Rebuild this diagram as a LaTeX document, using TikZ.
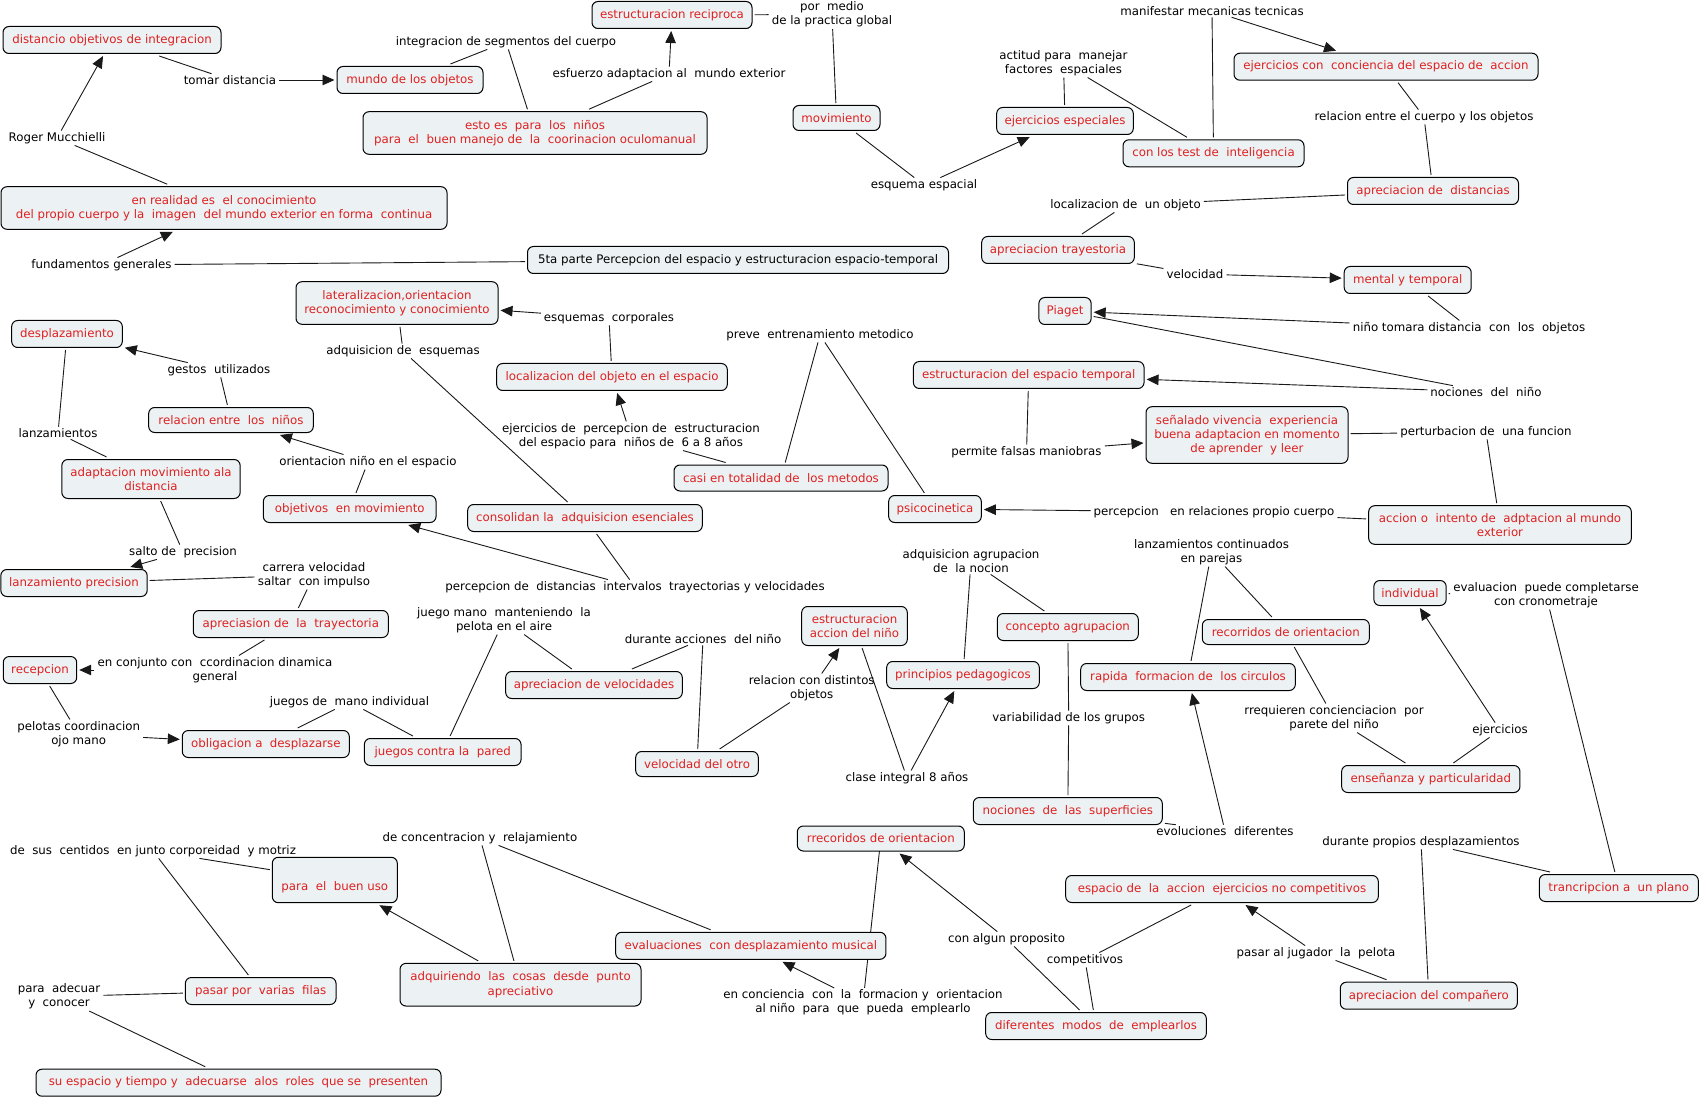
\documentclass[tikz,border=0pt]{standalone}
\usepackage{fontspec}
\setmainfont{DejaVu Sans}
\usetikzlibrary{arrows.meta}
\definecolor{boxfill}{RGB}{236,242,244}
\definecolor{cred}{RGB}{222,32,32}
\pgfdeclarelayer{backdrop}
\pgfdeclarelayer{bg}
\pgfsetlayers{backdrop,bg,main}
\begin{document}
\begin{tikzpicture}[x=1pt,y=-1pt,
  concept/.style={draw=black, line width=1pt, rounded corners=6pt, fill=boxfill, text=cred,
    font=\fontsize{11.8}{14.3}\selectfont, align=center, inner xsep=3pt, inner ysep=2pt,
    minimum height=27pt, outer sep=2.5pt},
  root/.style={concept, text=black},
  lp/.style={text=black, font=\fontsize{11.8}{14.3}\selectfont, align=center, inner xsep=3pt, inner ysep=1.5pt},
  conn/.style={line width=0.9pt, draw=black!90},
  arr/.style={conn, -{Triangle[length=12pt,width=10.5pt]}}
]
\begin{pgfonlayer}{backdrop}
\fill[white] (0,0) rectangle (1701,1099);
\end{pgfonlayer}
\useasboundingbox (0,0) rectangle (1701,1099);

% ---------- concepts ----------
\node[concept, minimum width=218pt] (c_distancio) at (112,40) {distancio objetivos de integracion};
\node[concept, minimum width=146pt] (c_mundo) at (410,80) {mundo de los objetos};
\node[concept, minimum width=344pt, minimum height=42.6pt] (c_esto) at (535,133) {esto es~ para~ los~ niños\\para~ el~ buen manejo de~ la~ coorinacion oculomanual};
\node[concept, minimum width=160pt] (c_estrec) at (672,15) {estructuracion reciproca};
\node[concept, minimum width=446pt, minimum height=42.6pt] (c_realidad) at (224,208) {en realidad es~ el conocimiento\\del propio cuerpo y la~ imagen~ del mundo exterior en forma~ continua};
\node[root, minimum width=421pt] (c_root) at (738,260) {5ta parte Percepcion del espacio y estructuracion espacio-temporal};
\node[concept, minimum width=202pt, minimum height=42.6pt] (c_lateral) at (397,303) {lateralizacion,orientacion\\reconocimiento y conocimiento};
\node[concept, minimum width=110.6pt] (c_despl) at (67,334) {desplazamiento};
\node[concept, minimum width=87pt, minimum height=25pt] (c_movim) at (836.5,118) {movimiento};
\node[concept, minimum width=136.6pt] (c_ejesp) at (1065,121) {ejercicios especiales};
\node[concept, minimum width=181pt] (c_test) at (1213.5,153.3) {con los test de~ inteligencia};
\node[concept, minimum width=304pt] (c_ejcon) at (1386,66.7) {ejercicios con~ conciencia del espacio de~ accion};
\node[concept, minimum width=171pt] (c_aprdist) at (1433,191) {apreciacion de~ distancias};
\node[concept, minimum width=152.6pt] (c_aprtray) at (1058,250) {apreciacion trayestoria};
\node[concept, minimum width=127pt] (c_mental) at (1407.7,280) {mental y temporal};
\node[concept, minimum width=52.3pt] (c_piaget) at (1065,311) {Piaget};
\node[concept, minimum width=230.7pt] (c_estemp) at (1028.7,375) {estructuracion del espacio temporal};
\node[concept, minimum width=202pt, minimum height=56.6pt] (c_senal) at (1247,435) {señalado vivencia~ experiencia\\buena adaptacion en momento\\de aprender~ y leer};
\node[concept, minimum width=262.6pt, minimum height=38.6pt] (c_accion) at (1500,525) {accion o~ intento de~ adptacion al mundo\\exterior};
\node[concept, minimum width=92.6pt] (c_psico) at (935,509) {psicocinetica};
\node[concept, minimum width=214pt, minimum height=26pt] (c_casi) at (781,478) {casi en totalidad de~ los metodos};
\node[concept, minimum width=230.6pt] (c_localobj) at (612,377) {localizacion del objeto en el espacio};
\node[concept, minimum width=164.6pt, minimum height=25pt] (c_relnin) at (231,420) {relacion entre~ los~ niños};
\node[concept, minimum width=178.3pt, minimum height=39pt] (c_adapt) at (151,479) {adaptacion movimiento ala\\distancia};
\node[concept, minimum width=172.7pt] (c_objmov) at (349.7,509) {objetivos~ en movimiento};
\node[concept, minimum width=234.6pt] (c_consol) at (585,518) {consolidan la~ adquisicion esenciales};
\node[concept, minimum width=146.3pt] (c_lanzprec) at (74,583) {lanzamiento precision};
\node[concept, minimum width=195pt] (c_aprtrayect) at (290.8,624) {apreciasion de~ la~ trayectoria};
\node[concept, minimum width=73.4pt] (c_recep) at (40,670) {recepcion};
\node[concept, minimum width=167pt] (c_oblig) at (265.8,744) {obligacion a~ desplazarse};
\node[concept, minimum width=156.7pt] (c_pared) at (442.7,752) {juegos contra la~ pared};
\node[concept, minimum width=176.6pt] (c_aprvel) at (594,685) {apreciacion de velocidades};
\node[concept, minimum width=105.6pt, minimum height=39pt] (c_estacc) at (854.5,626) {estructuracion\\accion del niño};
\node[concept, minimum width=122.6pt, minimum height=25pt] (c_velotro) at (697,764) {velocidad del otro};
\node[concept, minimum width=141pt] (c_concepto) at (1067.8,627) {concepto agrupacion};
\node[concept, minimum width=152.6pt] (c_princ) at (963,675) {principios pedagogicos};
\node[concept, minimum width=214.6pt] (c_rapida) at (1188,677) {rapida~ formacion de~ los circulos};
\node[concept, minimum width=167pt, minimum height=25pt] (c_recorr) at (1285.8,632) {recorridos de orientacion};
\node[concept, minimum width=72.3pt, minimum height=25pt] (c_indiv) at (1410,593) {individual};
\node[concept, minimum width=178.3pt] (c_ensen) at (1430.8,779) {enseñanza y particularidad};
\node[concept, minimum width=189pt] (c_nocsup) at (1067.8,811) {nociones~ de~ las~ superficies};
\node[concept, minimum width=167pt, minimum height=25pt] (c_rrecor) at (880.8,838.5) {rrecoridos de orientacion};
\node[concept, minimum width=312.6pt] (c_espacio) at (1222,889) {espacio de~ la~ accion~ ejercicios no competitivos};
\node[concept, minimum width=159pt] (c_trancr) at (1618.8,888) {trancripcion a~ un plano};
\node[concept, minimum width=125pt, minimum height=45.4pt] (c_buenuso) at (334.8,880) {\strut\\para~ el~ buen uso};
\node[concept, minimum width=270.3pt] (c_evalmus) at (750.8,945.8) {evaluaciones~ con desplazamiento musical};
\node[concept, minimum width=241pt, minimum height=42.7pt] (c_adquir) at (520.5,984.7) {adquiriendo~ las~ cosas~ desde~ punto\\apreciativo};
\node[concept, minimum width=150.7pt] (c_pasar) at (260.7,991) {pasar por~ varias~ filas};
\node[concept, minimum width=220.6pt] (c_difer) at (1096,1026) {diferentes~ modos~ de~ emplearlos};
\node[concept, minimum width=177pt] (c_aprcomp) at (1428.8,995.7) {apreciacion del compañero};
\node[concept, minimum width=405pt] (c_suesp) at (238.5,1082.7) {su espacio y tiempo y~ adecuarse~ alos~ roles~ que se~ presenten};

% ---------- linking phrases ----------
\node[lp] (l_tomar) at (230,80) {tomar distancia};
\node[lp] (l_roger) at (57,138) {Roger Mucchielli};
\node[lp] (l_integ) at (506,42) {integracion de segmentos del cuerpo};
\node[lp] (l_esfuerzo) at (669,74) {esfuerzo adaptacion al~ mundo exterior};
\node[lp] (l_pormedio) at (832,14.5) {por~ medio\\de la practica global};
\node[lp] (l_fund) at (101.5,265) {fundamentos generales};
\node[lp] (l_esqesp) at (924,185) {esquema espacial};
\node[lp] (l_actitud) at (1063.5,63) {actitud para~ manejar\\factores~ espaciales};
\node[lp] (l_manif) at (1212,11) {manifestar mecanicas tecnicas};
\node[lp] (l_relcuerpo) at (1424,117) {relacion entre el cuerpo y los objetos};
\node[lp] (l_localiz) at (1125.5,205) {localizacion de~ un objeto};
\node[lp] (l_veloc) at (1195,274) {velocidad};
\node[lp] (l_ninotom) at (1469,328) {niño tomara distancia~ con~ los~ objetos};
\node[lp] (l_nociones) at (1486,392) {nociones~ del~ niño};
\node[lp] (l_esqcorp) at (609,318) {esquemas~ corporales};
\node[lp] (l_adqesq) at (403,351) {adquisicion de~ esquemas};
\node[lp] (l_preve) at (820,335) {preve~ entrenamiento metodico};
\node[lp] (l_gestos) at (219,370) {gestos~ utilizados};
\node[lp] (l_lanz) at (58,433) {lanzamientos};
\node[lp] (l_orient) at (368,462) {orientacion niño en el espacio};
\node[lp] (l_ejperc) at (631,436) {ejercicios de~ percepcion de~ estructuracion\\del espacio para~ niños de~ 6 a 8 años};
\node[lp] (l_salto) at (183,552) {salto de~ precision};
\node[lp] (l_carrera) at (314,575) {carrera velocidad\\saltar~ con impulso};
\node[lp] (l_percdist) at (635,587) {percepcion de~ distancias~ intervalos~ trayectorias y velocidades};
\node[lp] (l_conjunto) at (215,670) {en conjunto con~ ccordinacion dinamica\\general};
\node[lp] (l_juegomano) at (504,620) {juego mano~ manteniendo~ la\\pelota en el aire};
\node[lp] (l_durante) at (703,639) {durante acciones~ del niño};
\node[lp] (l_relcon) at (811.7,688) {relacion con distintos\\objetos};
\node[lp] (l_juegosmano) at (349.5,702) {juegos de~ mano individual};
\node[lp] (l_pelotas) at (78.7,734) {pelotas coordinacion\\ojo mano};
\node[lp] (l_adqagr) at (971,561) {adquisicion agrupacion\\de~ la nocion};
\node[lp] (l_lanzcont) at (1211.5,552) {lanzamientos continuados\\en parejas};
\node[lp] (l_percrel) at (1214,512) {percepcion~~ en relaciones propio cuerpo};
\node[lp] (l_permite) at (1026.5,452) {permite falsas maniobras};
\node[lp] (l_perturb) at (1486,432) {perturbacion de~ una funcion};
\node[lp] (l_evaluacion) at (1546,595) {evaluacion~ puede completarse\\con cronometraje};
\node[lp] (l_rrequieren) at (1334,718) {rrequieren concienciacion~ por\\parete del niño};
\node[lp] (l_ejercicios) at (1500,730) {ejercicios};
\node[lp] (l_variab) at (1068.7,718) {variabilidad de los grupos};
\node[lp] (l_clase) at (907,778) {clase integral 8 años};
\node[lp] (l_evol) at (1225,831) {evoluciones~ diferentes};
\node[lp] (l_durprop) at (1421,842) {durante propios desplazamientos};
\node[lp] (l_pasar) at (1316,953) {pasar al jugador~ la~ pelota};
\node[lp] (l_algun) at (1006.5,939) {con algun proposito};
\node[lp] (l_compet) at (1085,960) {competitivos};
\node[lp] (l_enconc) at (863,1002.5) {en conciencia~ con~ la~ formacion y~ orientacion\\al niño~ para~ que~ pueda~ emplearlo};
\node[lp] (l_deconc) at (480,838) {de concentracion y~ relajamiento};
\node[lp] (l_desus) at (153,851) {de~ sus~ centidos~ en junto corporeidad~ y motriz};
\node[lp] (l_paraadec) at (59,996.5) {para~ adecuar\\y~ conocer};

% ---------- connectors ----------
\begin{pgfonlayer}{bg}
\draw[conn] (c_distancio) -- (l_tomar);
\draw[arr] (l_tomar) -- (c_mundo);
\draw[arr] (l_roger) -- (c_distancio);
\draw[conn] (c_realidad) -- (l_roger);
\draw[arr] (l_fund) -- (c_realidad);
\draw[conn] (c_root) -- (l_fund);
\draw[conn] (c_esto) -- (l_integ);
\draw[conn] (l_integ) -- (c_mundo);
\draw[conn] (c_esto) -- (l_esfuerzo);
\draw[arr] (l_esfuerzo) -- (c_estrec);
\draw[conn] (c_estrec) -- (l_pormedio);
\draw[conn] (l_pormedio) -- (c_movim);
\draw[conn] (c_movim) -- (l_esqesp);
\draw[arr] (l_esqesp) -- (c_ejesp);
\draw[conn] (c_ejesp) -- (l_actitud);
\draw[conn] (l_actitud) -- (c_test);
\draw[conn] (c_test) -- (l_manif);
\draw[arr] (l_manif) -- (c_ejcon);
\draw[conn] (c_ejcon) -- (l_relcuerpo);
\draw[conn] (l_relcuerpo) -- (c_aprdist);
\draw[conn] (c_aprdist) -- (l_localiz);
\draw[conn] (l_localiz) -- (c_aprtray);
\draw[conn] (c_aprtray) -- (l_veloc);
\draw[arr] (l_veloc) -- (c_mental);
\draw[conn] (c_mental) -- (l_ninotom);
\draw[arr] (l_ninotom) -- (c_piaget);
\draw[conn] (c_piaget) -- (l_nociones);
\draw[arr] (l_nociones) -- (c_estemp);
\draw[conn] (c_estemp) -- (l_permite);
\draw[arr] (l_permite) -- (c_senal);
\draw[conn] (c_senal) -- (l_perturb);
\draw[conn] (l_perturb) -- (c_accion);
\draw[conn] (c_accion) -- (l_percrel);
\draw[arr] (l_percrel) -- (c_psico);
\draw[conn] (c_psico) -- (l_preve);
\draw[conn] (l_preve) -- (c_casi);
\draw[conn] (c_casi) -- (l_ejperc);
\draw[arr] (l_ejperc) -- (c_localobj);
\draw[conn] (c_localobj) -- (l_esqcorp);
\draw[arr] (l_esqcorp) -- (c_lateral);
\draw[conn] (c_lateral) -- (l_adqesq);
\draw[conn] (l_adqesq) -- (c_consol);
\draw[conn] (c_consol) -- (l_percdist);
\draw[arr] (l_percdist) -- (c_objmov);
\draw[conn] (c_objmov) -- (l_orient);
\draw[arr] (l_orient) -- (c_relnin);
\draw[conn] (c_relnin) -- (l_gestos);
\draw[arr] (l_gestos) -- (c_despl);
\draw[conn] (c_despl) -- (l_lanz);
\draw[conn] (l_lanz) -- (c_adapt);
\draw[conn] (c_adapt) -- (l_salto);
\draw[arr] (l_salto) -- (c_lanzprec);
\draw[conn] (c_lanzprec) -- (l_carrera);
\draw[conn] (l_carrera) -- (c_aprtrayect);
\draw[conn] (c_aprtrayect) -- (l_conjunto);
\draw[arr] (l_conjunto) -- (c_recep);
\draw[conn] (c_recep) -- (l_pelotas);
\draw[arr] (l_pelotas) -- (c_oblig);
\draw[conn] (c_oblig) -- (l_juegosmano);
\draw[conn] (l_juegosmano) -- (c_pared);
\draw[conn] (c_pared) -- (l_juegomano);
\draw[conn] (l_juegomano) -- (c_aprvel);
\draw[conn] (c_aprvel) -- (l_durante);
\draw[conn] (l_durante) -- (c_velotro);
\draw[conn] (c_velotro) -- (l_relcon);
\draw[arr] (l_relcon) -- (c_estacc);
\draw[conn] (c_estacc) -- (l_clase);
\draw[arr] (l_clase) -- (c_princ);
\draw[conn] (c_princ) -- (l_adqagr);
\draw[conn] (l_adqagr) -- (c_concepto);
\draw[conn] (c_concepto) -- (l_variab);
\draw[conn] (l_variab) -- (c_nocsup);
\draw[conn] (c_nocsup) -- (l_evol);
\draw[arr] (l_evol) -- (c_rapida);
\draw[conn] (c_rapida) -- (l_lanzcont);
\draw[conn] (l_lanzcont) -- (c_recorr);
\draw[conn] (c_recorr) -- (l_rrequieren);
\draw[conn] (l_rrequieren) -- (c_ensen);
\draw[conn] (c_ensen) -- (l_ejercicios);
\draw[arr] (l_ejercicios) -- (c_indiv);
\draw[conn] (c_indiv) -- (l_evaluacion);
\draw[conn] (l_evaluacion) -- (c_trancr);
\draw[conn] (c_trancr) -- (l_durprop);
\draw[conn] (l_durprop) -- (c_aprcomp);
\draw[conn] (c_aprcomp) -- (l_pasar);
\draw[arr] (l_pasar) -- (c_espacio);
\draw[conn] (c_espacio) -- (l_compet);
\draw[conn] (l_compet) -- (c_difer);
\draw[conn] (c_difer) -- (l_algun);
\draw[arr] (l_algun) -- (c_rrecor);
\draw[conn] (c_rrecor.center) -- (l_enconc);
\draw[arr] (l_enconc) -- (c_evalmus);
\draw[conn] (c_evalmus) -- (l_deconc);
\draw[conn] (l_deconc) -- (c_adquir);
\draw[arr] (c_adquir) -- (c_buenuso);
\draw[conn] (c_buenuso) -- (l_desus);
\draw[conn] (l_desus) -- (c_pasar);
\draw[conn] (c_pasar) -- (l_paraadec);
\draw[conn] (l_paraadec) -- (c_suesp);
\end{pgfonlayer}
\end{tikzpicture}
\end{document}
